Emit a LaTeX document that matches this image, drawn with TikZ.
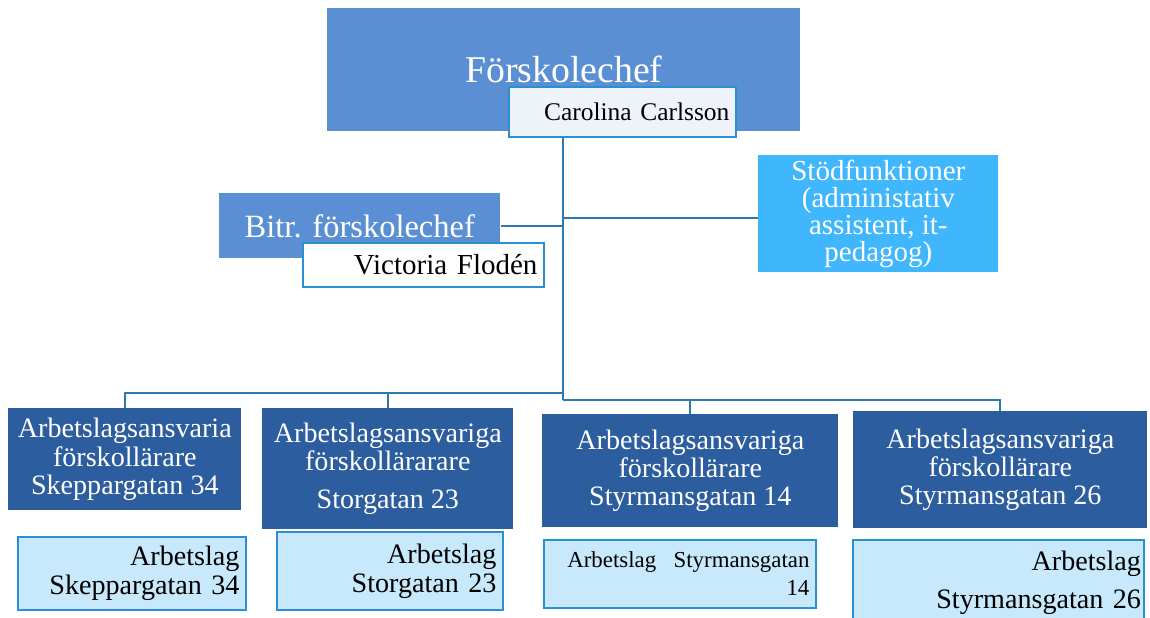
\documentclass[tikz,border=0pt]{standalone}
\usepackage{fontspec}
\setmainfont{Liberation Serif}
\usepackage{tikz}

\definecolor{chefblue}{HTML}{5B8FD4}
\definecolor{stodblue}{HTML}{40B7FD}
\definecolor{teamblue}{HTML}{2C5D9E}
\definecolor{lagfill}{HTML}{C8E8FB}
\definecolor{lagline}{HTML}{2B8FD4}
\definecolor{namefill}{HTML}{EEF3FA}
\definecolor{linkblue}{HTML}{2F7AAD}

\tikzset{
    box/.style={anchor=north west, inner sep=0pt, align=center, text=white},
    namebox/.style={anchor=north west, inner xsep=0.13cm, inner ysep=0pt,
        align=right, draw=lagline, line width=1.1pt, text=black},
    teambox/.style={box, fill=teamblue, font=\fontsize{16}{16}\selectfont},
    lagbox/.style={namebox, fill=lagfill, font=\fontsize{16}{16.5}\selectfont},
    link/.style={draw=linkblue, line width=1.1pt}
}

\begin{document}
\begin{tikzpicture}[x=0.02cm, y=-0.02cm]
                \useasboundingbox (0,0) rectangle (1150,618);
                \clip (0,0) rectangle (1150,618);
                % ledning
                \node[box, fill=chefblue, minimum width=9.46cm, minimum height=2.46cm,
                    font=\fontsize{21.5}{24}\selectfont] (chef) at (327,8) {Förskolechef};
                \node[namebox, fill=namefill, text width=4.28cm, minimum height=1cm,
                    font=\fontsize{14.5}{16}\selectfont] (carolina) at (508,86) {Carolina Carlsson};
                \node[box, fill=chefblue, minimum width=5.62cm, minimum height=1.3cm,
                    font=\fontsize{18.5}{20}\selectfont] (bitr) at (219,193) {Bitr. förskolechef};
                \node[namebox, fill=white, text width=4.56cm, minimum height=0.88cm,
                    font=\fontsize{16.5}{18}\selectfont] (victoria) at (302,242) {Victoria Flodén};
                \node[box, fill=stodblue, minimum width=4.8cm, minimum height=2.34cm,
                    font=\fontsize{16.5}{15.5}\selectfont] (stod) at (758,155)
                    {Stödfunktioner\\(administativ\\assistent, it-\\pedagog)};
                % arbetslag
                \node[teambox, minimum width=4.66cm, minimum height=2.04cm] (team1) at (8,408)
                    {Arbetslagsansvaria\\förskollärare\\Skeppargatan 34};
                \node[teambox, minimum width=5.02cm, minimum height=2.42cm] (team2) at (262,408)
                    {Arbetslagsansvariga\\förskollärarare\\[6pt]Storgatan 23};
                \node[teambox, minimum width=5.92cm, minimum height=2.26cm] (team3) at (542,414)
                    {Arbetslagsansvariga\\förskollärare\\Styrmansgatan 14};
                \node[teambox, minimum width=5.88cm, minimum height=2.34cm] (team4) at (853,411)
                    {Arbetslagsansvariga\\förskollärare\\Styrmansgatan 26};
                \node[lagbox, text width=4.3cm, minimum height=1.46cm] (lag1) at (17,536)
                    {Arbetslag\\Skeppargatan 34};
                \node[lagbox, text width=4.26cm, minimum height=1.56cm] (lag2) at (276,531)
                    {Arbetslag\\Storgatan 23};
                \node[lagbox, text width=5.18cm, minimum height=1.36cm,
                    font=\fontsize{13}{16}\selectfont] (lag3) at (543,539)
                    {Arbetslag\hspace{0.35cm}Styrmansgatan\\14};
                \node[lagbox, inner xsep=0.06cm, text width=5.7cm, minimum height=1.7cm] (lag4) at (852,539)
                    {Arbetslag\\[5pt]Styrmansgatan 26};
                % linjer
                \coordinate (trunk) at (563,400);
                \coordinate (busleft) at (563,393);
                \draw[link] (trunk |- carolina.south) -- (trunk);
                \draw[link] (bitr.east) -- (bitr.east -| trunk);
                \draw[link] ([yshift=-0.09cm]stod.west) -- ([yshift=-0.09cm]stod.west -| trunk);
                \draw[link] (team1.north) |- (busleft);
                \draw[link] (team2.north) -- (team2.north |- busleft);
                \draw[link] (team4.north) |- (trunk);
                \draw[link] (team3.north) -- (team3.north |- trunk);
            \end{tikzpicture}
\end{document}
